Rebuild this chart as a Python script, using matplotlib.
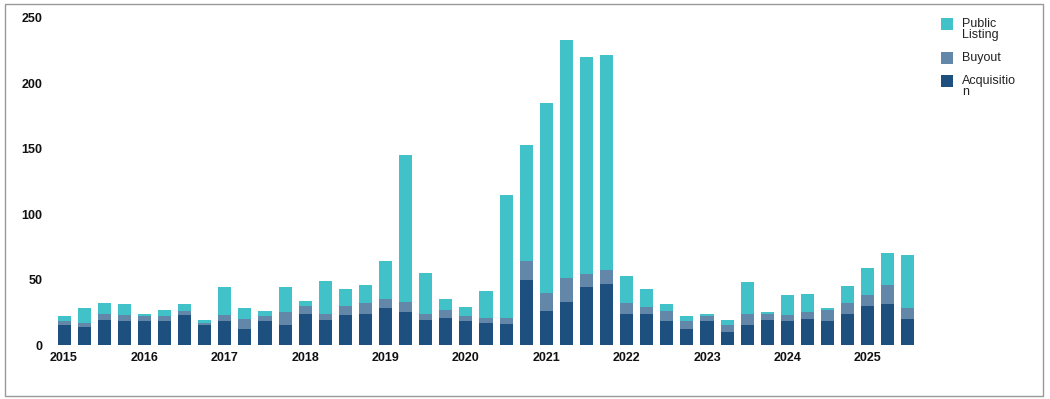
import matplotlib
matplotlib.use("Agg")
import matplotlib.pyplot as plt
from matplotlib.patches import Rectangle
import numpy as np

plt.rcParams['font.family'] = ['Liberation Sans', 'DejaVu Sans']

years = ["2015", "2016", "2017", "2018", "2019", "2020", "2021", "2022", "2023", "2024", "2025"]
series_names = ["Acquisition", "Buyout", "Public Listing"]
legend_labels = ["Public\nListing", "Buyout", "Acquisitio\nn"]

acquisition = [15, 14, 19, 18, 18, 18, 23, 15, 18, 12, 18, 15, 24, 19, 23, 24,
               28, 25, 19, 21, 18, 17, 16, 50, 26, 33, 44, 47, 24, 24, 18, 12,
               18, 10, 15, 19, 18, 20, 18, 24, 30, 31, 20]
buyout = [3, 3, 5, 5, 4, 4, 3, 2, 5, 8, 4, 10, 6, 5, 7, 8,
          7, 8, 5, 6, 4, 4, 5, 14, 14, 18, 10, 10, 8, 5, 8, 6,
          4, 5, 9, 5, 5, 5, 9, 8, 8, 15, 8]
public_listing = [4, 11, 8, 8, 2, 5, 5, 2, 21, 8, 4, 19, 4, 25, 13, 14,
                  29, 112, 31, 8, 7, 20, 94, 89, 145, 182, 166, 165, 21, 14, 5, 4,
                  2, 4, 24, 1, 15, 14, 1, 13, 21, 24, 41]

colors = {"Acquisition": "#1D4F7F", "Buyout": "#6287A9", "Public Listing": "#40C2C8"}

W, H = 1050, 399
fig = plt.figure(figsize=(W / 100, H / 100), dpi=100)

ax_left, ax_right = 52, 925
ax_top, ax_bottom = 18, 345
ax = fig.add_axes([ax_left / W, (H - ax_bottom) / H, (ax_right - ax_left) / W, (ax_bottom - ax_top) / H])

n = len(acquisition)
x = np.arange(n)
acq = np.array(acquisition)
buy = np.array(buyout)
pub = np.array(public_listing)
bw = 0.65
ax.bar(x, acq, width=bw, color=colors["Acquisition"], linewidth=0)
ax.bar(x, buy, width=bw, bottom=acq, color=colors["Buyout"], linewidth=0)
ax.bar(x, pub, width=bw, bottom=acq + buy, color=colors["Public Listing"], linewidth=0)

ax.set_xlim(-0.6, 42.85)
ax.set_ylim(0, 250)
ax.set_yticks([0, 50, 100, 150, 200, 250])
ax.set_xticks(np.arange(0, n, 4))
ax.set_xticklabels(years)
for s in ax.spines.values():
    s.set_visible(False)
ax.tick_params(axis='both', length=0, labelsize=9)
ax.tick_params(axis='y', pad=7)
ax.tick_params(axis='x', pad=5)
for lbl in ax.get_xticklabels() + ax.get_yticklabels():
    lbl.set_fontweight('bold')
    lbl.set_color('#111111')

# border
fig.patches.append(Rectangle((5 / W, 1 - 396 / H), (1043 - 5) / W, (396 - 4) / H,
                             transform=fig.transFigure, fill=False, edgecolor='#999999', linewidth=1))

# legend
leg_items = [(legend_labels[0], colors["Public Listing"], 18),
             (legend_labels[1], colors["Buyout"], 52),
             (legend_labels[2], colors["Acquisition"], 75)]
for lab, col, ytop in leg_items:
    fig.patches.append(Rectangle((941 / W, 1 - (ytop + 12) / H), 12 / W, 12 / H,
                                 transform=fig.transFigure, color=col, linewidth=0))
    fig.text(962 / W, 1 - (ytop + 0) / H, lab, ha='left', va='top', fontsize=9,
             color='#222222', linespacing=0.92)

fig.savefig("out.png", dpi=100)
